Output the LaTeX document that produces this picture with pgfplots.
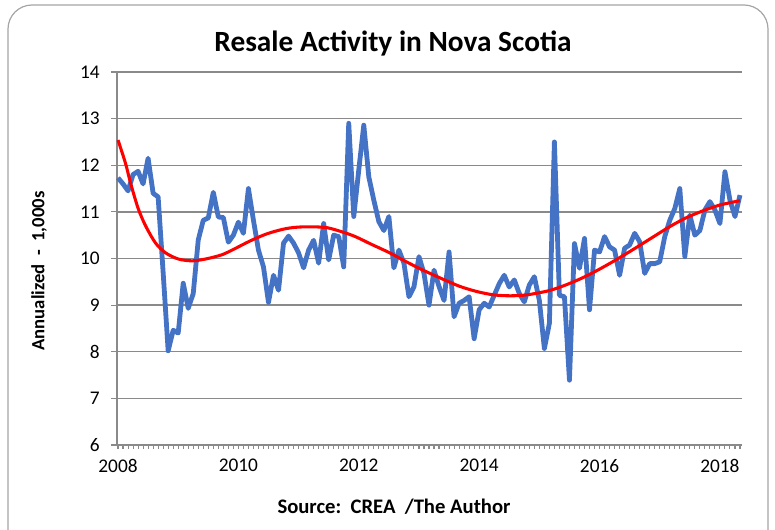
\documentclass[border=0pt]{standalone}
\usepackage{fontspec}
\setmainfont{Carlito}
\usepackage{pgfplots}
\usepackage{pgfplotstable}
\pgfplotsset{compat=1.18}
\definecolor{exblue}{RGB}{68,114,196}
\definecolor{gridgray}{RGB}{138,138,138}
\definecolor{bordergray}{RGB}{165,165,165}

\pgfplotstableread{
m v
0 11.73
1 11.60
2 11.45
3 11.80
4 11.87
5 11.60
6 12.15
7 11.40
8 11.32
9 9.70
10 8.02
11 8.46
12 8.40
13 9.47
14 8.93
15 9.25
16 10.40
17 10.82
18 10.87
19 11.42
20 10.89
21 10.88
22 10.35
23 10.50
24 10.78
25 10.54
26 11.50
27 10.82
28 10.18
29 9.82
30 9.06
31 9.64
32 9.32
33 10.33
34 10.48
35 10.33
36 10.12
37 9.80
38 10.18
39 10.39
40 9.90
41 10.75
42 9.97
43 10.50
44 10.47
45 9.82
46 12.90
47 10.90
48 11.90
49 12.86
50 11.75
51 11.25
52 10.79
53 10.60
54 10.90
55 9.80
56 10.18
57 9.90
58 9.18
59 9.39
60 10.04
61 9.68
62 9.00
63 9.75
64 9.40
65 9.10
66 10.14
67 8.75
68 9.04
69 9.10
70 9.18
71 8.28
72 8.90
73 9.04
74 8.96
75 9.21
76 9.46
77 9.64
78 9.39
79 9.54
80 9.25
81 9.07
82 9.43
83 9.61
84 9.10
85 8.07
86 8.61
87 12.50
88 9.21
89 9.18
90 7.39
91 10.32
92 9.79
93 10.43
94 8.90
95 10.18
96 10.14
97 10.47
98 10.25
99 10.18
100 9.64
101 10.22
102 10.29
103 10.54
104 10.36
105 9.68
106 9.89
107 9.89
108 9.93
109 10.47
110 10.82
111 11.07
112 11.50
113 10.04
114 10.93
115 10.50
116 10.60
117 11.04
118 11.22
119 11.04
120 10.75
121 11.86
122 11.25
123 10.90
124 11.36
}\resale

\pgfplotstableread{
m v
0 12.54
1.5 12.04
2.5 11.62
4 11.08
5.5 10.70
7.5 10.33
9.5 10.12
12 9.99
14.75 9.95
17.5 9.99
20.7 10.08
23.1 10.20
26.4 10.38
29.7 10.53
33.0 10.63
35.5 10.67
38.5 10.68
41.7 10.66
44.7 10.57
47.3 10.47
50.6 10.30
54.0 10.13
57.3 9.94
60.6 9.76
64.9 9.55
68.2 9.40
71.6 9.29
74.9 9.22
78.2 9.20
81.5 9.22
85.9 9.31
89.2 9.43
92.5 9.58
95.8 9.76
99.1 9.96
102.5 10.18
106.8 10.47
110.1 10.69
113.4 10.88
116.8 11.03
120.1 11.15
124 11.24
}\trend

\begin{document}
\begin{tikzpicture}[x=0.75pt,y=0.75pt]
\useasboundingbox (0,0) rectangle (775,529);
\draw[bordergray, line width=0.9pt, rounded corners=18pt] (8,-40) rectangle (768,524);
\node[font=\fontsize{22}{26}\selectfont\bfseries] at (393,486) {Resale Activity in Nova Scotia};
\node[font=\fontsize{15.5}{18}\selectfont\bfseries] at (394,22) {Source:\ \ CREA \ /The Author};
\node[font=\fontsize{14}{17}\selectfont\bfseries, rotate=90] at (39,258) {Annualized \ - \ 1,000s};
\begin{axis}[
  at={(87.75pt,63pt)}, anchor=south west,
  scale only axis, width=468.75pt, height=279.75pt,
  xmin=-0.2, xmax=124.4, ymin=6, ymax=14,
  ytick={6,7,...,14},
  xtick={0,24,48,72,96,120},
  xticklabels={2008,2010,2012,2014,2016,2018},
  minor xtick={0,1,...,124},
  axis x line*=bottom, axis y line*=left,
  axis line style={-, gridgray, line width=1.1pt},
  ymajorgrids, grid style={gridgray, line width=1.1pt},
  tick style={gridgray, line width=0.8pt},
  major tick length=4.5pt, minor tick length=3pt,
  tick align=outside,
  xtick style={draw=none},
  minor x tick style={draw=gridgray},
  tick label style={font=\fontsize{14.5}{17}\selectfont, text=black},
  yticklabel style={xshift=-5pt},
  xticklabel style={yshift=-2.5pt},
  /pgf/number format/assume math mode=true,
  clip=false,
]
\addplot[exblue, line width=3.6pt, line join=round] table[x=m,y=v] {\resale};
\addplot[red, line width=2.3pt, smooth] table[x=m,y=v] {\trend};
\end{axis}
\end{tikzpicture}
\end{document}
